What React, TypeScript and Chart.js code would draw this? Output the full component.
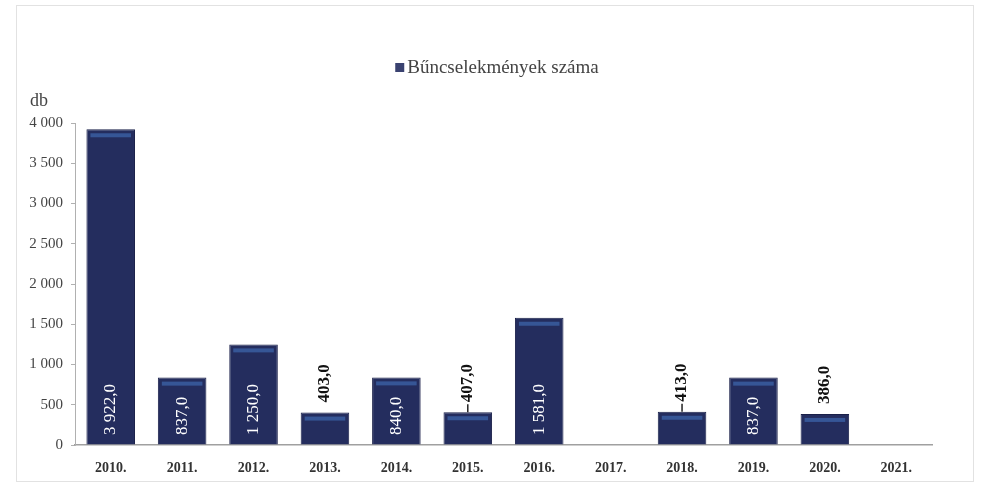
import React, { useEffect, useRef } from "react";
import { Chart, registerables } from "chart.js";

Chart.register(...registerables);

const categories = ["2010.", "2011.", "2012.", "2013.", "2014.", "2015.", "2016.", "2017.", "2018.", "2019.", "2020.", "2021."];
const crimeCounts = [3922, 837, 1250, 403, 840, 407, 1581, 0, 413, 837, 386, 0];
const yTicks = [0, 500, 1000, 1500, 2000, 2500, 3000, 3500, 4000];
const seriesLabel = "Bűncselekmények száma";
const unitLabel = "db";
const leaderYears = ["2015.", "2018."];
const insideThreshold = 500;

const SERIF = "'Liberation Serif', 'Times New Roman', serif";

const groupThousands = (n: number) => String(n).replace(/\B(?=(\d{3})+(?!\d))/g, " ");
const fmtValue = (v: number) => {
  const [i, d] = v.toFixed(1).split(".");
  return groupThousands(Number(i)) + "," + d;
};

const decorPlugin = {
  id: "decor",
  afterDatasetsDraw(chart: any) {
    const ctx = chart.ctx as CanvasRenderingContext2D;
    const meta = chart.getDatasetMeta(0);
    const base = chart.scales.y.getPixelForValue(0);
    meta.data.forEach((el: any, i: number) => {
      const v = crimeCounts[i];
      if (!v) return;
      const { x, y, width } = el.getProps(["x", "y", "width"], true);
      // lighter highlight band near top of bar
      ctx.save();
      ctx.fillStyle = "rgba(60,100,170,0.75)";
      ctx.fillRect(x - width / 2 + 4, y + 4, width - 8, 4);
      ctx.restore();

      const text = fmtValue(v);
      const inside = v >= insideThreshold;
      ctx.save();
      if (!inside && leaderYears.includes(categories[i])) {
        ctx.strokeStyle = "#222";
        ctx.lineWidth = 1.5;
        ctx.beginPath();
        ctx.moveTo(x, y);
        ctx.lineTo(x, y - 8);
        ctx.stroke();
      }
      ctx.translate(x, inside ? base - 10 : y - 10);
      ctx.rotate(-Math.PI / 2);
      ctx.textAlign = "left";
      ctx.textBaseline = "middle";
      if (inside) {
        ctx.fillStyle = "#ffffff";
        ctx.font = `17px ${SERIF}`;
      } else {
        ctx.fillStyle = "#111111";
        ctx.font = `bold 17px ${SERIF}`;
      }
      ctx.fillText(text, 0, 0);
      ctx.restore();
    });
  },
  afterDraw(chart: any) {
    const ctx = chart.ctx as CanvasRenderingContext2D;
    ctx.save();
    // unit label
    ctx.fillStyle = "#444";
    ctx.font = `18px ${SERIF}`;
    ctx.textAlign = "left";
    ctx.textBaseline = "middle";
    ctx.fillText(unitLabel, 30, 101);
    // legend
    ctx.font = `19px ${SERIF}`;
    const tw = ctx.measureText(seriesLabel).width;
    const cx = 497;
    const total = 12 + tw;
    const sx = cx - total / 2;
    ctx.fillStyle = "#3a4270";
    ctx.fillRect(sx, 63, 9, 9);
    ctx.fillStyle = "#444";
    ctx.fillText(seriesLabel, sx + 12, 68);
    ctx.restore();
  },
};

export default function App() {
  const ref = useRef<HTMLCanvasElement | null>(null);
  useEffect(() => {
    if (!ref.current) return;
    const chart = new Chart(ref.current, {
      type: "bar",
      data: {
        labels: categories,
        datasets: [
          {
            label: seriesLabel,
            data: crimeCounts,
            backgroundColor: "#242d5e",
            borderColor: "#1a2049",
            borderWidth: 1,
            barPercentage: 0.68,
            categoryPercentage: 1,
          },
        ],
      },
      options: {
        responsive: false,
        animation: false,
        layout: { padding: { top: 123, right: 52, left: 0, bottom: 0 } },
        plugins: {
          legend: { display: false },
          tooltip: { enabled: false },
        },
        scales: {
          x: {
            grid: { display: false },
            border: { display: true, color: "#a0a0a0", width: 1.5 },
            ticks: {
              color: "#333",
              font: { family: SERIF, size: 14, weight: "bold" },
              padding: 7,
              maxRotation: 0,
            },
            afterFit(scale: any) {
              scale.height = 45;
            },
          },
          y: {
            min: 0,
            max: 4000,
            afterBuildTicks(scale: any) {
              scale.ticks = yTicks.map((v) => ({ value: v }));
            },
            grid: {
              display: true,
              drawOnChartArea: false,
              drawTicks: true,
              tickLength: 4,
              color: "#b0b0b0",
            },
            border: { display: true, color: "#b0b0b0" },
            ticks: {
              color: "#444",
              font: { family: SERIF, size: 15 },
              padding: 8,
              callback: (v: any) => groupThousands(Number(v)),
            },
            afterFit(scale: any) {
              scale.width = 75;
            },
          },
        },
      },
      plugins: [decorPlugin],
    });
    return () => chart.destroy();
  }, []);

  return (
    <div style={{ position: "absolute", left: 0, top: 0, width: 984, height: 490, background: "#fff" }}>
      <div
        style={{
          position: "absolute",
          left: 16,
          top: 5,
          width: 958,
          height: 477,
          border: "1px solid #e2e2e2",
          boxSizing: "border-box",
        }}
      />
      <canvas ref={ref} width={984} height={490} style={{ position: "absolute", left: 0, top: 0 }} />
    </div>
  );
}
